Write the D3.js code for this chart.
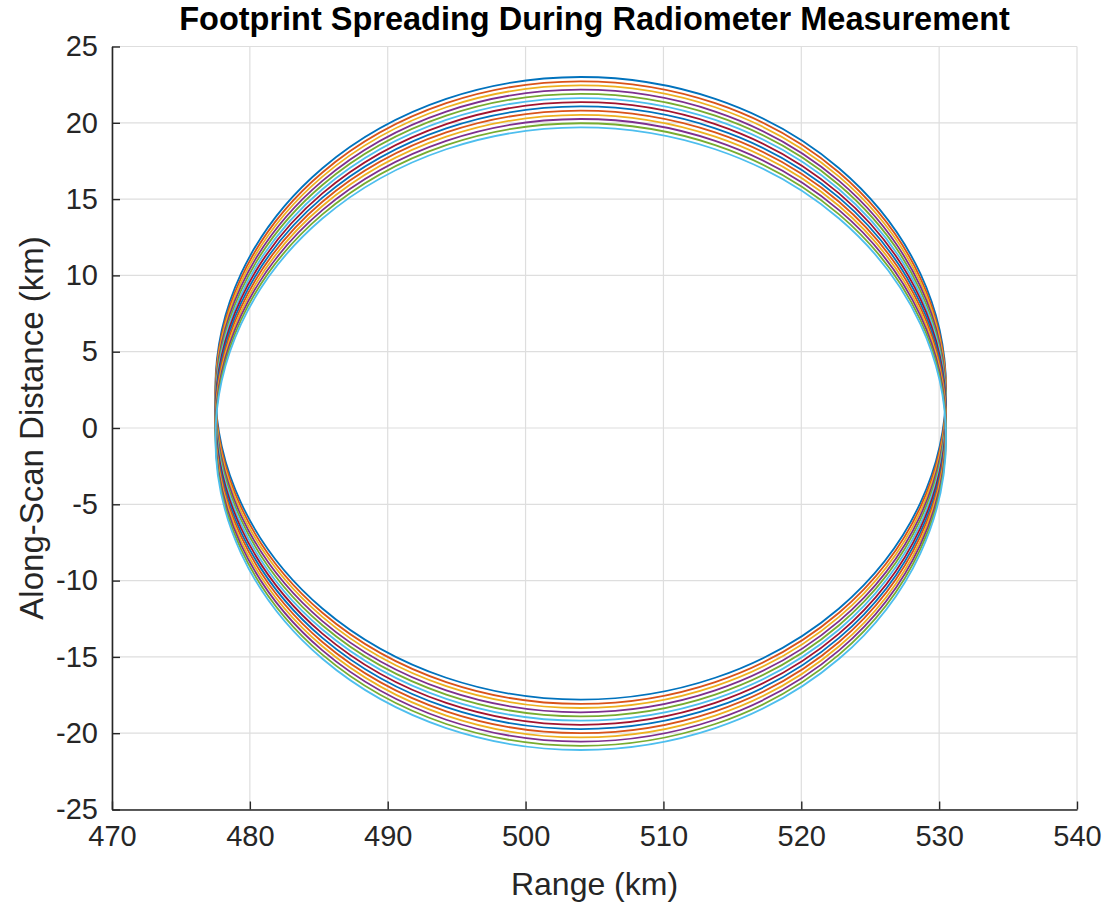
<!DOCTYPE html>
<html>
<head>
<meta charset="utf-8">
<script src="https://cdn.jsdelivr.net/npm/d3@7"></script>
<style>
  body { margin: 0; background: #fff; }
  svg { display: block; font-family: "Liberation Sans", Arial, sans-serif; }
  .grid line { stroke: #dedede; stroke-width: 1.2; }
  .axis path, .axis line { stroke: #262626; }
  .axis text { fill: #262626; font-size: 29px; }
</style>
</head>
<body>
<script>
// footprint centres along scan (km), one per measurement, top to bottom
const footprintCentres = [2.6, 2.32, 2.05, 1.77, 1.5, 1.22, 0.95, 0.67, 0.4, 0.12, -0.15, -0.43, -0.7];
const footprintRange = 504;     // centre in range (km)
const halfRange = 26.5;          // semi-axis along range (km)
const halfAlong = 20.4;          // semi-axis along scan (km)
const colorOrder = ['#0072BD', '#D95319', '#EDB120', '#7E2F8E', '#77AC30', '#4DBEEE', '#A2142F'];
const xTicks = [470, 480, 490, 500, 510, 520, 530, 540];
const yTicks = [-25, -20, -15, -10, -5, 0, 5, 10, 15, 20, 25];

const width = 1106;
const height = 907;
const margin = { top: 46.5, right: 29, bottom: 97.5, left: 112 };

const svg = d3.select('body').append('svg')
  .attr('width', width)
  .attr('height', height);

const x = d3.scaleLinear()
  .domain([470, 540])
  .range([margin.left, width - margin.right]);
const y = d3.scaleLinear()
  .domain([-25, 25])
  .range([height - margin.bottom, margin.top]);

// grid
const grid = svg.append('g').attr('class', 'grid');
grid.selectAll('.gx')
  .data(xTicks)
  .enter().append('line')
  .attr('x1', d => x(d)).attr('x2', d => x(d))
  .attr('y1', y(-25)).attr('y2', y(25));
grid.selectAll('.gy')
  .data(yTicks)
  .enter().append('line')
  .attr('x1', x(470)).attr('x2', x(540))
  .attr('y1', d => y(d)).attr('y2', d => y(d));

// footprints
svg.append('g')
  .attr('fill', 'none')
  .attr('stroke-width', 1.8)
  .selectAll('ellipse')
  .data(footprintCentres)
  .enter().append('ellipse')
  .attr('cx', x(footprintRange))
  .attr('cy', d => y(d))
  .attr('rx', x(footprintRange + halfRange) - x(footprintRange))
  .attr('ry', y(0) - y(halfAlong))
  .attr('stroke', (d, i) => colorOrder[i % colorOrder.length]);

// axes
const fmt = d => String(d);
const xAxis = svg.append('g')
  .attr('class', 'axis')
  .attr('transform', `translate(0,${y(-25)})`)
  .call(d3.axisBottom(x).tickValues(xTicks).tickFormat(fmt)
    .tickSizeInner(-8).tickSizeOuter(0).tickPadding(16));
xAxis.select('.domain').attr('stroke-width', 1.6);
xAxis.selectAll('.tick line').attr('stroke-width', 1.4);

const yAxis = svg.append('g')
  .attr('class', 'axis')
  .attr('transform', `translate(${x(470)},0)`)
  .call(d3.axisLeft(y).tickValues(yTicks).tickFormat(fmt)
    .tickSizeInner(-8).tickSizeOuter(0).tickPadding(14));
yAxis.select('.domain').attr('stroke-width', 1.6);
yAxis.selectAll('.tick line').attr('stroke-width', 1.4);

// labels
svg.append('text')
  .attr('x', (x(470) + x(540)) / 2)
  .attr('y', 30)
  .attr('text-anchor', 'middle')
  .attr('font-size', 32.5)
  .attr('font-weight', 'bold')
  .attr('fill', '#000')
  .text('Footprint Spreading During Radiometer Measurement');

svg.append('text')
  .attr('x', (x(470) + x(540)) / 2)
  .attr('y', 895)
  .attr('text-anchor', 'middle')
  .attr('font-size', 32)
  .attr('fill', '#262626')
  .text('Range (km)');

svg.append('text')
  .attr('transform', `translate(43,${(y(-25) + y(25)) / 2}) rotate(-90)`)
  .attr('text-anchor', 'middle')
  .attr('font-size', 33)
  .attr('fill', '#262626')
  .text('Along-Scan Distance (km)');
</script>
</body>
</html>
